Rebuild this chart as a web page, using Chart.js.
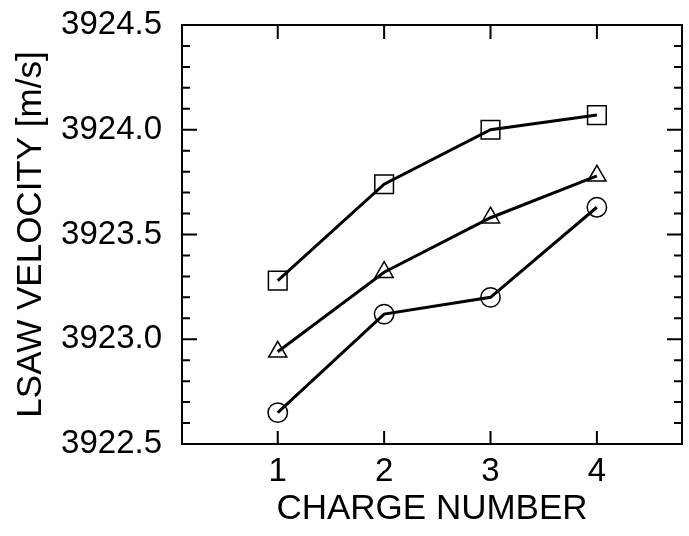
<!DOCTYPE html>
<html lang="en">
<head>
    <meta charset="UTF-8">
    <title>LSAW velocity vs charge number</title>
    <script src="https://cdn.jsdelivr.net/npm/chart.js"></script>
    <style>
        body { margin: 0; background: #fff; }
    </style>
</head>
<body>
<canvas id="myChart" width="689" height="536"></canvas>

<script>
    // values
    const chargeNumbers = [1, 2, 3, 4];
    const squareSeries = [3923.28, 3923.74, 3924.00, 3924.07];
    const triangleSeries = [3922.94, 3923.32, 3923.58, 3923.78];
    const circleSeries = [3922.65, 3923.12, 3923.20, 3923.63];

    const xTicks = [1, 2, 3, 4];
    const yTicks = [3922.5, 3923.0, 3923.5, 3924.0, 3924.5];
    const yMinorTicks = [3922.6, 3922.7, 3922.8, 3922.9, 3923.1, 3923.2, 3923.3, 3923.4,
        3923.6, 3923.7, 3923.8, 3923.9, 3924.1, 3924.2, 3924.3, 3924.4];

    const fontFamily = '"Liberation Sans", Arial, Helvetica, sans-serif';

    function makeSeries(label, values, style, radius) {
        return {
            label: label,
            data: chargeNumbers.map((x, i) => ({x: x, y: values[i]})),
            borderColor: '#000',
            borderWidth: 3,
            pointStyle: style,
            pointRadius: radius,
            pointBorderWidth: 1.5,
            pointBorderColor: '#000',
            pointBackgroundColor: 'rgba(0,0,0,0)',
            tension: 0
        };
    }

    // frame and inward tick marks, placed through the chart's own scales
    const frameTicks = {
        id: 'frameTicks',
        afterDraw(chart) {
            const {ctx, chartArea: a, scales: {x, y}} = chart;
            ctx.save();
            ctx.strokeStyle = '#000';
            ctx.lineWidth = 2;
            ctx.strokeRect(a.left, a.top, a.right - a.left, a.bottom - a.top);
            ctx.beginPath();
            xTicks.forEach(v => {
                const px = x.getPixelForValue(v);
                ctx.moveTo(px, a.bottom); ctx.lineTo(px, a.bottom - 13);
                ctx.moveTo(px, a.top); ctx.lineTo(px, a.top + 14);
            });
            yTicks.forEach(v => {
                const py = y.getPixelForValue(v);
                ctx.moveTo(a.left, py); ctx.lineTo(a.left + 15, py);
                ctx.moveTo(a.right, py); ctx.lineTo(a.right - 15, py);
            });
            yMinorTicks.forEach(v => {
                const py = y.getPixelForValue(v);
                ctx.moveTo(a.left, py); ctx.lineTo(a.left + 8, py);
                ctx.moveTo(a.right, py); ctx.lineTo(a.right - 8, py);
            });
            ctx.stroke();
            ctx.restore();
        }
    };

    const ctx = document.getElementById('myChart').getContext('2d');
    new Chart(ctx, {
        type: 'line',
        data: {
            datasets: [
                makeSeries('square', squareSeries, 'rect', 13.2),
                makeSeries('triangle', triangleSeries, 'triangle', 10.5),
                makeSeries('circle', circleSeries, 'circle', 9.7)
            ]
        },
        options: {
            responsive: false,
            animation: false,
            layout: {autoPadding: false, padding: {top: 25, right: 7, left: 0, bottom: 0}},
            plugins: {
                legend: {display: false},
                tooltip: {enabled: false}
            },
            scales: {
                x: {
                    type: 'linear',
                    min: 0.1,
                    max: 4.8,
                    afterBuildTicks: s => { s.ticks = xTicks.map(v => ({value: v})); },
                    afterFit: s => { s.height = 92; s.paddingLeft = 0; s.paddingRight = 0; },
                    grid: {display: false},
                    border: {display: false},
                    ticks: {
                        color: '#000',
                        padding: 0,
                        font: {family: fontFamily, size: 33},
                        callback: v => String(v)
                    },
                    title: {
                        display: true,
                        text: 'CHARGE NUMBER',
                        color: '#000',
                        font: {family: fontFamily, size: 35},
                        padding: {top: 0, bottom: 6}
                    }
                },
                y: {
                    type: 'linear',
                    min: 3922.5,
                    max: 3924.5,
                    afterBuildTicks: s => { s.ticks = yTicks.map(v => ({value: v})); },
                    afterFit: s => { s.width = 182; s.paddingTop = 0; s.paddingBottom = 0; },
                    grid: {display: false},
                    border: {display: false},
                    ticks: {
                        color: '#000',
                        padding: 12,
                        font: {family: fontFamily, size: 33},
                        callback: v => v.toFixed(1)
                    },
                    title: {
                        display: true,
                        text: 'LSAW VELOCITY [m/s]',
                        color: '#000',
                        font: {family: fontFamily, size: 35},
                        padding: {top: 10, bottom: 0}
                    }
                }
            }
        },
        plugins: [frameTicks]
    });
</script>
</body>
</html>
